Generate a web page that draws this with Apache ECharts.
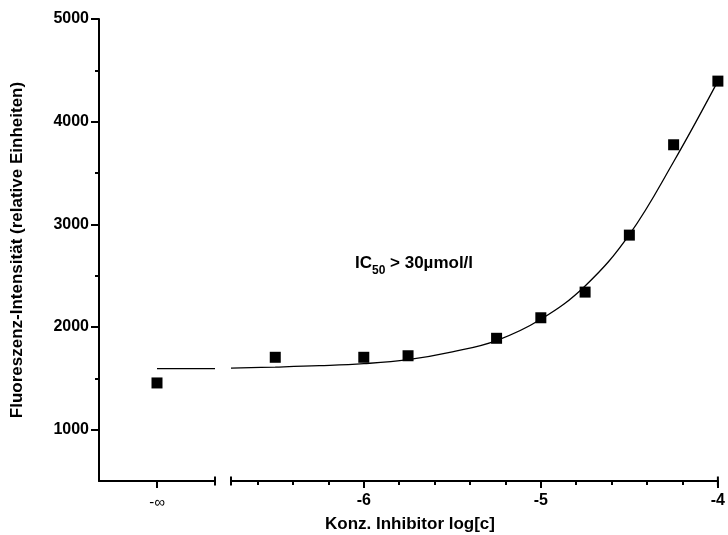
<!DOCTYPE html>
<html>
<head>
<meta charset="utf-8">
<script src="https://cdn.jsdelivr.net/npm/echarts@6/dist/echarts.min.js"></script>
<style>
  html, body { margin: 0; padding: 0; background: #fff; }
  #main { width: 728px; height: 535px; }
</style>
</head>
<body>
<div id="main"></div>
<script>
// messpunkte (log[c] -> intensitaet)
const logConc = [-6.5, -6, -5.75, -5.25, -5, -4.75, -4.5, -4.25, -4];
const intensity = [1705, 1705, 1720, 1890, 2090, 2340, 2895, 3775, 4395];

// kontrolle ohne inhibitor
const controlLabel = '-∞';
const controlValue = 1455;

// fit-kurve
const fitX = [-6.75, -6.5, -6.25, -6, -5.75, -5.5, -5.25, -5, -4.75, -4.5, -4.25, -4];
const fitY = [1600, 1610, 1623, 1643, 1682, 1758, 1868, 2075, 2400, 2900, 3610, 4395];
const fitBaseline = 1595;

// achsen
const yTicks = [1000, 2000, 3000, 4000, 5000];
const yMinorTicks = [1500, 2500, 3500, 4500];
const xTicks = [-6, -5, -4];
const xMinorTicks = [-6.6, -6.4, -6.2, -5.8, -5.6, -5.4, -5.2, -4.8, -4.6, -4.4, -4.2];

const font = 'Liberation Sans, Arial, sans-serif';
const chart = echarts.init(document.getElementById('main'));

const tickStyle = { color: '#000', width: 2 };

const option = {
  animation: false,
  backgroundColor: '#fff',
  grid: [
    { left: 99, top: 19, width: 116, bottom: 54 },
    { left: 231, top: 19, right: 6, bottom: 54 }
  ],
  xAxis: [
    {
      type: 'value', gridIndex: 0, min: -1, max: 1, position: 'bottom',
      splitLine: { show: false },
      axisLine: { show: true, onZero: false, symbol: ['none', 'rect'], symbolSize: [9, 2], lineStyle: tickStyle },
      axisTick: { show: true, length: 7, customValues: [0], lineStyle: tickStyle },
      axisLabel: { customValues: [0], formatter: () => controlLabel, color: '#000', fontFamily: font, fontSize: 15, margin: 14 }
    },
    {
      type: 'value', gridIndex: 1, min: -6.75, max: -4, position: 'bottom',
      splitLine: { show: false },
      axisLine: { show: true, onZero: false, symbol: ['rect', 'rect'], symbolSize: [9, 2], lineStyle: tickStyle },
      axisTick: { show: true, length: 7, customValues: xTicks, lineStyle: tickStyle },
      axisLabel: { customValues: xTicks, formatter: v => String(v), color: '#000', fontFamily: font, fontSize: 16, fontWeight: 'bold', margin: 12 }
    },
    // kleine striche
    {
      type: 'value', gridIndex: 1, min: -6.75, max: -4, position: 'bottom',
      splitLine: { show: false },
      axisLine: { show: false, onZero: false },
      axisTick: { show: true, length: 4, customValues: xMinorTicks, lineStyle: tickStyle },
      axisLabel: { show: false }
    }
  ],
  yAxis: [
    {
      type: 'value', gridIndex: 0, min: 500, max: 5000, position: 'left',
      splitLine: { show: false },
      axisLine: { show: true, onZero: false, lineStyle: tickStyle },
      axisTick: { show: true, length: 8, customValues: yTicks, lineStyle: tickStyle },
      axisLabel: { customValues: yTicks, formatter: v => String(v), color: '#000', fontFamily: font, fontSize: 16, fontWeight: 'bold', margin: 10 },
      name: 'Fluoreszenz-Intensität (relative Einheiten)',
      nameLocation: 'middle',
      nameGap: 73,
      nameTextStyle: { color: '#000', fontFamily: font, fontSize: 17, fontWeight: 'bold' }
    },
    {
      type: 'value', gridIndex: 0, min: 500, max: 5000, position: 'left',
      splitLine: { show: false },
      axisLine: { show: false, onZero: false },
      axisTick: { show: true, length: 4, customValues: yMinorTicks, lineStyle: tickStyle },
      axisLabel: { show: false }
    },
    { type: 'value', gridIndex: 1, min: 500, max: 5000, show: false }
  ],
  graphic: [
    {
      type: 'text', x: 410, y: 524,
      style: { text: 'Konz. Inhibitor log[c]', fill: '#000', font: 'bold 17px ' + font, align: 'center', verticalAlign: 'middle' }
    },
    {
      type: 'text', x: 414, y: 263,
      style: {
        text: '{a|IC}{b|50}{a| > 30µmol/l}',
        align: 'center', verticalAlign: 'middle',
        rich: {
          a: { fill: '#000', fontFamily: font, fontSize: 17, fontWeight: 'bold', lineHeight: 20 },
          b: { fill: '#000', fontFamily: font, fontSize: 12, fontWeight: 'bold', lineHeight: 20, padding: [15, 0, 0, 0] }
        }
      }
    }
  ],
  series: [
    {
      type: 'line', xAxisIndex: 0, yAxisIndex: 0,
      data: [[0, fitBaseline], [1, fitBaseline]],
      showSymbol: false, lineStyle: { color: '#000', width: 1.3 }
    },
    {
      type: 'scatter', xAxisIndex: 0, yAxisIndex: 0,
      data: [[0, controlValue]],
      symbol: 'rect', symbolSize: 11, itemStyle: { color: '#000', opacity: 1 }
    },
    {
      type: 'line', xAxisIndex: 1, yAxisIndex: 2,
      data: fitX.map((x, i) => [x, fitY[i]]),
      smooth: 0.4, showSymbol: false, lineStyle: { color: '#000', width: 1.3 }
    },
    {
      type: 'scatter', xAxisIndex: 1, yAxisIndex: 2,
      data: logConc.map((x, i) => [x, intensity[i]]),
      symbol: 'rect', symbolSize: 11, itemStyle: { color: '#000', opacity: 1 }
    }
  ]
};

chart.setOption(option);
</script>
</body>
</html>
